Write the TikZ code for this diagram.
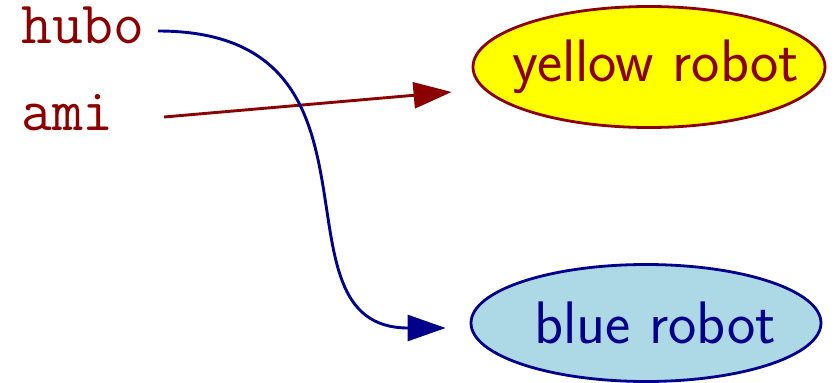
\documentclass[tikz,border=0pt]{standalone}
\usetikzlibrary{arrows.meta,shapes.geometric}
\definecolor{robotred}{RGB}{139,0,0}
\definecolor{robotblue}{RGB}{0,0,139}
\definecolor{robotsky}{RGB}{173,216,230}
\definecolor{robotyellow}{RGB}{255,255,0}
\tikzset{
  varname/.style={anchor=base west, inner sep=0pt, text=robotred,
    font=\fontsize{60}{66}\selectfont\ttfamily},
  robot/.style={ellipse, line width=2.8pt, inner sep=0pt,
    font=\fontsize{60}{66}\selectfont\sffamily},
  link/.style={line width=2.9pt, -{Triangle[length=38pt,width=26pt]}},
}
\begin{document}
\begin{tikzpicture}[x=1pt,y=-1pt]
  \useasboundingbox (0,0) rectangle (839,383);

  % variable names
  \node[varname] (hubo) at (21,43) {hubo};
  \node[varname] (ami)  at (21,130) {ami};

  % the two robots (labels sit a little right of the ellipse centres)
  \node[robot, draw=robotred, fill=robotyellow, text=robotred,
        minimum width=352pt, minimum height=121pt]
        (yellow) at (649,67) {\makebox[0pt]{\hspace{14pt}yellow robot}};
  \node[robot, draw=robotblue, fill=robotsky, text=robotblue,
        minimum width=350pt, minimum height=117pt]
        (blue) at (646,323) {\makebox[0pt]{\hspace{18pt}blue robot}};

  % references from names to robots
  \draw[link, robotred]
    ([shift={(50,-13)}]ami.base east) -- ([shift={(-20,25)}]yellow.west);
  \draw[link, robotblue]
    ([shift={(13,-12)}]hubo.base east) .. controls +(250,0) and +(-184,0)
    .. ([shift={(-24,5)}]blue.west);
\end{tikzpicture}
\end{document}
